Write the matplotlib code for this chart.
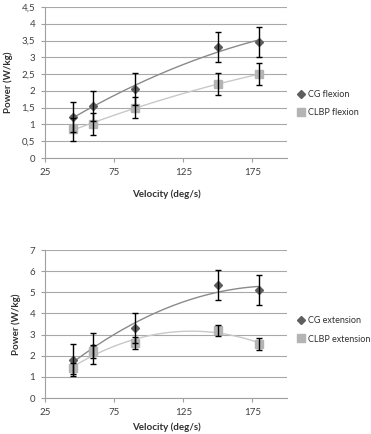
import numpy as np
import matplotlib.pyplot as plt

plt.rcParams['font.family'] = ['Lato', 'DejaVu Sans']

velocity = [45, 60, 90, 150, 180]

cg_flex = [1.23, 1.55, 2.05, 3.3, 3.45]
cg_flex_err = [0.45, 0.45, 0.47, 0.45, 0.45]
clbp_flex = [0.85, 1.02, 1.5, 2.2, 2.5]
clbp_flex_err = [0.35, 0.32, 0.32, 0.32, 0.32]

cg_ext = [1.8, 2.35, 3.3, 5.35, 5.1]
cg_ext_err = [0.75, 0.72, 0.7, 0.7, 0.7]
clbp_ext = [1.4, 2.2, 2.6, 3.2, 2.55]
clbp_ext_err = [0.27, 0.3, 0.3, 0.27, 0.27]

xticks = [25, 75, 125, 175]
dark = '#5e5e5e'
light = '#b4b4b4'


def panel(ax, cg, cg_err, clbp, clbp_err, ymax, ystep, names, leg_y, xpad):
    xs = np.linspace(velocity[0], velocity[-1], 200)
    # 2nd order trendlines like excel
    for vals, col in [(cg, '#8a8a8a'), (clbp, '#c8c8c8')]:
        p = np.polyfit(velocity, vals, 2)
        ax.plot(xs, np.polyval(p, xs), color=col, lw=1, zorder=2)
    ax.plot(velocity, cg, 'D', color=dark, ms=4.5, zorder=3, label=names[0])
    ax.plot(velocity, clbp, 's', color=light, ms=6, zorder=3, label=names[1])
    ax.errorbar(velocity, cg, yerr=cg_err, fmt='none', ecolor='black', elinewidth=1, capsize=2, zorder=4)
    ax.errorbar(velocity, clbp, yerr=clbp_err, fmt='none', ecolor='black', elinewidth=1, capsize=2, zorder=4)

    ax.set_xlim(25, 200)
    ax.set_ylim(0, ymax)
    ax.set_xticks(xticks)
    yt = np.arange(0, ymax + ystep / 2, ystep)
    ax.set_yticks(yt)
    ax.set_yticklabels([('%g' % v).replace('.', ',') for v in yt])
    ax.grid(axis='y', color='#a8a8a8', lw=0.8)
    ax.set_axisbelow(True)
    for s in ['top', 'right']:
        ax.spines[s].set_visible(False)
    for s in ['left', 'bottom']:
        ax.spines[s].set_color('#a0a0a0')
    ax.tick_params(length=3, color='#a0a0a0', labelsize=7, labelcolor='#404040', pad=4)
    ax.set_xlabel('Velocity (deg/s)', fontsize=7, fontweight='bold', color='#303030', labelpad=xpad)
    ax.set_ylabel('Power (W/kg)', fontsize=7, fontweight='bold', color='#303030', labelpad=6)
    ax.legend(loc='center left', bbox_to_anchor=(1.03, leg_y), frameon=False, fontsize=6.5,
              handlelength=0.8, handletextpad=0.3, labelspacing=1.05, labelcolor='#303030',
              borderaxespad=0)


fig = plt.figure(figsize=(3.71, 4.34), dpi=100)
ax1 = fig.add_axes([45 / 371, 1 - 158 / 434, 242 / 371, 151 / 434])
ax2 = fig.add_axes([45 / 371, 1 - 398 / 434, 242 / 371, 148 / 434])

panel(ax1, cg_flex, cg_flex_err, clbp_flex, clbp_flex_err, 4.5, 0.5,
      ['CG flexion', 'CLBP flexion'], 0.36, 9)
panel(ax2, cg_ext, cg_ext_err, clbp_ext, clbp_ext_err, 7, 1,
      ['CG extension', 'CLBP extension'], 0.46, 4)

fig.savefig('out.png', dpi=100)
